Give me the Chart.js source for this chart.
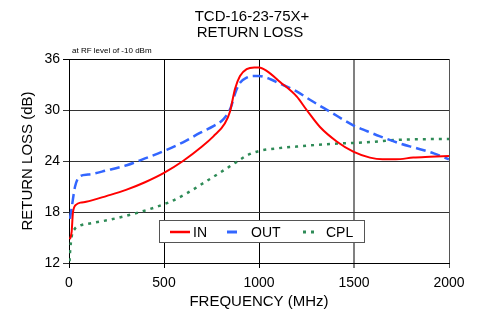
<!DOCTYPE html>
<html><head><meta charset="utf-8">
<script src="https://cdn.jsdelivr.net/npm/chart.js@4"></script>
<style>html,body{margin:0;padding:0;background:#fff}#wrap{width:482px;height:314px;position:relative}</style>
</head><body><div id="wrap"><canvas id="c" width="482" height="314"></canvas></div>
<script>
const titleLines = ["TCD-16-23-75X+", "RETURN LOSS"];
const noteText = "at RF level of -10 dBm";
const xTitle = "FREQUENCY (MHz)";
const yTitle = "RETURN LOSS (dB)";
const xTicks = [0, 500, 1000, 1500, 2000];
const yTicks = [12, 18, 24, 30, 36];

const inFreq = [5, 14, 21, 40, 60, 90, 200, 300, 400, 500, 600, 700, 760, 820, 847, 874, 900, 935, 975, 1000, 1040, 1111, 1198, 1251, 1321, 1409, 1496, 1584, 1650, 1720, 1812, 1900, 2000];
const inVals = [14.8, 15.7, 18.0, 18.9, 19.1, 19.2, 19.9, 20.6, 21.5, 22.6, 24.0, 25.7, 26.9, 28.4, 29.8, 32.5, 34.0, 34.8, 35.0, 35.0, 34.6, 33.3, 31.6, 30.0, 28.0, 26.3, 25.1, 24.4, 24.2, 24.2, 24.4, 24.5, 24.6];

const outFreq = [5, 14, 32, 58, 100, 200, 304, 400, 514, 600, 689, 760, 812, 850, 875, 900, 935, 970, 1000, 1040, 1111, 1198, 1268, 1374, 1496, 1570, 1637, 1750, 1830, 1920, 2000];
const outVals = [17.2, 18.5, 21.0, 22.2, 22.4, 22.9, 23.5, 24.3, 25.3, 26.2, 27.3, 28.1, 28.9, 30.2, 32.0, 33.2, 33.8, 34.0, 34.0, 33.8, 33.1, 32.2, 31.2, 29.8, 28.2, 27.5, 26.9, 26.0, 25.5, 24.9, 24.2];

const cplFreq = [3, 5, 14, 30, 58, 120, 216, 374, 532, 620, 707, 800, 883, 940, 1005, 1100, 1198, 1374, 1567, 1742, 2000];
const cplVals = [12.2, 13.1, 15.1, 16.0, 16.4, 16.7, 17.1, 18.0, 19.2, 20.2, 21.4, 22.7, 23.9, 24.7, 25.2, 25.5, 25.7, 26.0, 26.2, 26.5, 26.6];

const seriesNames = ["IN", "OUT", "CPL"];
const FONT = "Arial, 'Liberation Sans', sans-serif";

function pts(f, v) { return f.map((x, i) => ({x: x, y: v[i]})); }

const styles = [
  {color: '#ff0000', width: 2, dash: []},
  {color: '#3366ff', width: 2.5, dash: [10, 5]},
  {color: '#2e8b57', width: 2.5, dash: [3, 5]}
];

const overlay = {
  id: 'overlay',
  afterDraw(chart) {
    const ctx = chart.ctx;
    ctx.save();
    ctx.fillStyle = '#000';
    ctx.textAlign = 'center';
    ctx.textBaseline = 'middle';
    ctx.font = '15px ' + FONT;
    ctx.fillText(titleLines[0], 252, 17);
    ctx.fillText(titleLines[1], 250, 33);
    ctx.font = '8px ' + FONT;
    ctx.textAlign = 'left';
    ctx.fillText(noteText, 72, 51);
    // legend
    const bx = 159.5, by = 220.5, bw = 205, bh = 22;
    ctx.fillStyle = '#fff';
    ctx.fillRect(bx, by, bw, bh);
    ctx.strokeStyle = '#555';
    ctx.lineWidth = 1;
    ctx.strokeRect(bx, by, bw, bh);
    const items = [
      {x1: 170, x2: 190, tx: 193},
      {x1: 227, x2: 242, tx: 251},
      {x1: 303, x2: 319, tx: 326}
    ];
    const ly = 232;
    items.forEach((it, i) => {
      const s = styles[i];
      ctx.strokeStyle = s.color;
      ctx.lineWidth = s.width + 0.5;
      ctx.setLineDash(s.dash);
      ctx.beginPath();
      ctx.moveTo(it.x1, ly);
      ctx.lineTo(it.x2, ly);
      ctx.stroke();
      ctx.setLineDash([]);
      ctx.fillStyle = '#000';
      ctx.font = '14px ' + FONT;
      ctx.textAlign = 'left';
      ctx.fillText(seriesNames[i], it.tx, ly + 1);
    });
    ctx.restore();
  }
};

const datasets = [
  {label: seriesNames[0], data: pts(inFreq, inVals)},
  {label: seriesNames[1], data: pts(outFreq, outVals)},
  {label: seriesNames[2], data: pts(cplFreq, cplVals)}
].map((d, i) => Object.assign(d, {
  borderColor: styles[i].color,
  borderWidth: styles[i].width,
  borderDash: styles[i].dash,
  pointRadius: 0,
  fill: false,
  cubicInterpolationMode: 'monotone',
  borderCapStyle: 'butt'
}));

new Chart(document.getElementById('c'), {
  type: 'line',
  data: {datasets: datasets},
  options: {
    responsive: false,
    animation: false,
    devicePixelRatio: 1,
    layout: {padding: {top: 59, right: 33, left: 0, bottom: 0}},
    plugins: {legend: {display: false}, tooltip: {enabled: false}, title: {display: false}},
    scales: {
      x: {
        type: 'linear', min: 0, max: 2000,
        afterBuildTicks: s => { s.ticks = xTicks.map(v => ({value: v})); },
        afterFit: s => { s.height = 51; },
        ticks: {font: {family: FONT, size: 14}, color: '#000', padding: 7, maxRotation: 0, callback: v => String(v)},
        grid: {
          color: c => c.tick && c.tick.value === 1500 ? '#808080' : (c.tick && c.tick.value === 2000 ? '#555' : '#000'),
          lineWidth: c => c.tick && c.tick.value === 1500 ? 2 : 1,
          tickLength: 5, drawTicks: true
        },
        border: {display: true, color: '#000', width: 1},
        title: {display: true, text: xTitle, font: {family: FONT, size: 15}, color: '#000', padding: {top: 0, bottom: 3}}
      },
      y: {
        type: 'linear', min: 12, max: 36,
        afterBuildTicks: s => { s.ticks = yTicks.map(v => ({value: v})); },
        afterFit: s => { s.width = 69; },
        ticks: {font: {family: FONT, size: 14}, color: '#000', padding: 3, callback: v => String(v)},
        grid: {color: c => (c.tick && c.tick.value === 36) ? '#000' : '#333', lineWidth: 1, tickLength: 6, drawTicks: true},
        border: {display: true, color: '#000', width: 1},
        title: {display: true, text: yTitle, font: {family: FONT, size: 15}, color: '#000', padding: {top: 19, bottom: 0}}
      }
    }
  },
  plugins: [overlay]
});
</script></body></html>
